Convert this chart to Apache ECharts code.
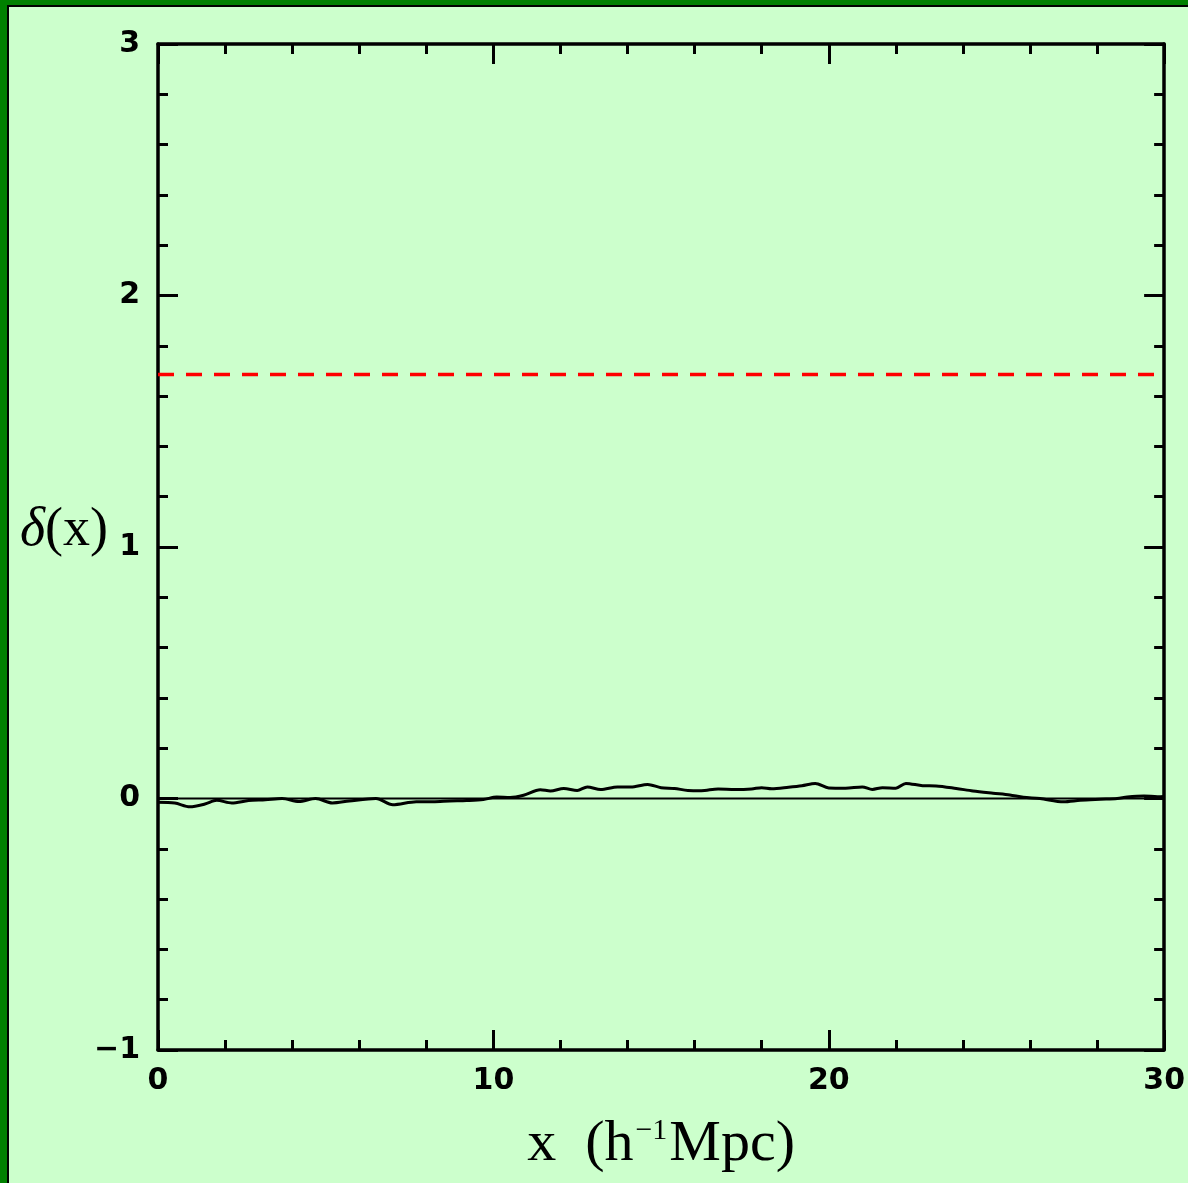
<!DOCTYPE html>
<html>
<head>
<meta charset="utf-8">
<script src="https://cdn.jsdelivr.net/npm/echarts@6/dist/echarts.min.js"></script>
<style>
  html, body { margin: 0; padding: 0; background: #ccffcc; }
  #chart { width: 1188px; height: 1183px; }
</style>
</head>
<body>
<div id="chart"></div>
<script>
// density profile delta(x) along the box
const xVals = [0.0, 0.5, 0.95, 1.4, 1.75, 2.2, 2.7, 3.2, 3.7, 4.2, 4.7, 5.2, 5.7, 6.5, 7.0, 7.7, 8.2, 8.7, 9.2, 9.7,
  10.1, 10.5, 10.9, 11.4, 11.7, 12.1, 12.5, 12.8, 13.2, 13.7, 14.1, 14.6, 15.0, 15.4, 15.8, 16.2, 16.7, 17.2, 17.7,
  18.0, 18.3, 18.8, 19.2, 19.6, 20.0, 20.5, 21.0, 21.3, 21.6, 22.0, 22.3, 22.8, 23.2, 23.8, 24.3, 24.9, 25.4, 25.8,
  26.3, 27.0, 27.5, 28.1, 28.6, 28.9, 29.4, 29.8, 30.0];
const deltaVals = [-0.015, -0.018, -0.033, -0.022, -0.007, -0.018, -0.008, -0.005, 0.0, -0.012, 0.0, -0.018, -0.01,
  0.0, -0.025, -0.013, -0.013, -0.01, -0.008, -0.004,
  0.006, 0.004, 0.013, 0.035, 0.03, 0.04, 0.032, 0.046, 0.036, 0.046, 0.046, 0.056, 0.043, 0.04, 0.032, 0.031, 0.038,
  0.036, 0.038, 0.043, 0.039, 0.045, 0.051, 0.06, 0.042, 0.041, 0.046, 0.036, 0.043, 0.041, 0.06, 0.051, 0.05, 0.04,
  0.03, 0.021, 0.014, 0.005, 0.0, -0.013, -0.007, -0.003, 0.0, 0.006, 0.01, 0.007, 0.008];
const zeroLine = [[0, 0], [30, 0]];
const collapseDelta = 1.686;
const thresholdLine = [[0, collapseDelta], [30, collapseDelta]];

const curve = xVals.map((x, i) => [x, deltaVals[i]]);

const labelFont = {
  color: '#000',
  fontSize: 30,
  fontWeight: 'bold',
  fontFamily: 'DejaVu Sans',
};

function xAxisCfg(pos, showLabel) {
  return {
    type: 'value',
    position: pos,
    min: 0,
    max: 30,
    interval: 10,
    axisLine: { show: true, onZero: false, lineStyle: { color: '#000', width: 3.5 } },
    axisTick: { show: true, inside: true, length: 20, lineStyle: { color: '#000', width: 3 } },
    minorTick: { show: true, splitNumber: 5, length: 10, lineStyle: { color: '#000', width: 3 } },
    splitLine: { show: false },
    axisLabel: Object.assign({ show: showLabel, margin: 16 }, labelFont),
  };
}

function yAxisCfg(pos, showLabel) {
  return {
    type: 'value',
    position: pos,
    min: -1,
    max: 3,
    interval: 1,
    axisLine: { show: true, onZero: false, lineStyle: { color: '#000', width: 3.5 } },
    axisTick: { show: true, inside: true, length: 20, lineStyle: { color: '#000', width: 3 } },
    minorTick: { show: true, splitNumber: 5, length: 10, lineStyle: { color: '#000', width: 3 } },
    splitLine: { show: false },
    axisLabel: Object.assign({
      show: showLabel,
      margin: 18,
      formatter: (v) => (v < 0 ? '\u2212' + Math.abs(v) : String(v)),
    }, labelFont),
  };
}

const chart = echarts.init(document.getElementById('chart'));

const bottomX = xAxisCfg('bottom', true);
bottomX.name = '{a|x  (h}{s|\u22121}{a|Mpc)}';
bottomX.nameLocation = 'middle';
bottomX.nameGap = 66;
bottomX.nameTextStyle = {
  rich: {
    a: { fontFamily: 'Liberation Serif', fontSize: 58, color: '#000' },
    s: { fontFamily: 'Liberation Serif', fontSize: 30, color: '#000', verticalAlign: 'top', padding: [0, 2, 22, 2] },
  },
};

const option = {
  backgroundColor: '#ccffcc',
  animation: false,
  grid: { left: 158, top: 44, right: 20, bottom: 133 },
  xAxis: [bottomX, xAxisCfg('top', false)],
  yAxis: [yAxisCfg('left', true), yAxisCfg('right', false)],
  graphic: [
    { type: 'rect', shape: { x: 0, y: 0, width: 1188, height: 5 }, style: { fill: '#008000' } },
    { type: 'rect', shape: { x: 0, y: 0, width: 7, height: 1183 }, style: { fill: '#008000' } },
    { type: 'rect', shape: { x: 7, y: 5, width: 1181, height: 2 }, style: { fill: '#000' } },
    { type: 'rect', shape: { x: 7, y: 5, width: 2, height: 1178 }, style: { fill: '#000' } },
    {
      type: 'text',
      left: 20,
      top: 504,
      style: {
        text: '{d|\u03b4}{p|(x)}',
        rich: {
          d: { fontFamily: 'Liberation Serif', fontStyle: 'italic', fontSize: 54, fill: '#000' },
          p: { fontFamily: 'Liberation Serif', fontSize: 54, fill: '#000' },
        },
      },
    },
  ],
  series: [
    {
      name: 'zero',
      type: 'line',
      data: zeroLine,
      showSymbol: false,
      silent: true,
      lineStyle: { color: '#000', width: 2 },
    },
    {
      name: 'collapse threshold',
      type: 'line',
      data: thresholdLine,
      showSymbol: false,
      silent: true,
      lineStyle: { color: '#ff0000', width: 3.5, type: [16, 12] },
    },
    {
      name: 'delta',
      type: 'line',
      data: curve,
      showSymbol: false,
      smooth: 0.3,
      lineStyle: { color: '#000', width: 3 },
    },
  ],
};

chart.setOption(option);
</script>
</body>
</html>
